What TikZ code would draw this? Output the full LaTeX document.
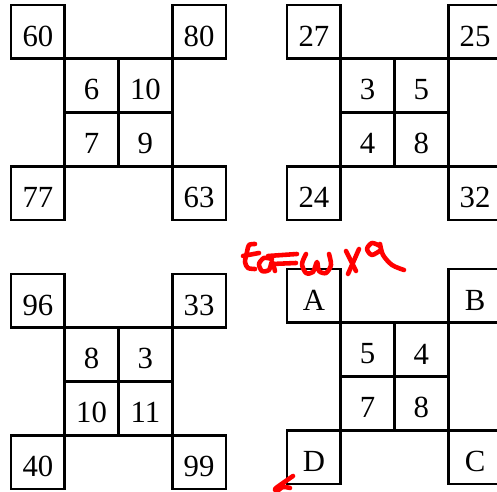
\documentclass[tikz,border=0pt]{standalone}
\usepackage{fontspec}
\setmainfont{Liberation Serif}
\usetikzlibrary{positioning}

\begin{document}
\begin{tikzpicture}[
  x=0.02cm, y=-0.02cm,
  box/.style={draw, line width=1.5pt, rectangle, minimum size=1.075cm, inner sep=0pt,
              text height=0.58cm, font=\fontsize{17.5}{20}\selectfont},
  scribble/.style={draw=red, line width=2.6pt, line cap=round, line join=round},
]
\useasboundingbox (0,0) rectangle (497,492);

% ---------------- Panel 1 (top left) ----------------
\node[box] (p1nw) at (37.9,31.9)   {60};
\node[box] (p1ne) at (199.1,31.9)  {80};
\node[box] (p1sw) at (37.9,193.1)  {77};
\node[box] (p1se) at (199.1,193.1) {63};
\node[box] (p1c1) at (91.6,85.6)   {6};
\node[box] (p1c2) at (145.4,85.6)  {10};
\node[box] (p1c3) at (91.6,139.4)  {7};
\node[box] (p1c4) at (145.4,139.4) {9};

% ---------------- Panel 2 (top right) ----------------
\node[box] (p2nw) at (313.9,31.9)  {27};
\node[box] (p2ne) at (475.1,31.9)  {25};
\node[box] (p2sw) at (313.9,193.1) {24};
\node[box] (p2se) at (475.1,193.1) {32};
\node[box] (p2c1) at (367.6,85.6)  {3};
\node[box] (p2c2) at (421.4,85.6)  {5};
\node[box] (p2c3) at (367.6,139.4) {4};
\node[box] (p2c4) at (421.4,139.4) {8};

% ---------------- Panel 3 (bottom left) ----------------
\node[box] (p3nw) at (37.9,300.9)  {96};
\node[box] (p3ne) at (199.1,300.9) {33};
\node[box] (p3sw) at (37.9,462.1)  {40};
\node[box] (p3se) at (199.1,462.1) {99};
\node[box] (p3c1) at (91.6,354.6)  {8};
\node[box] (p3c2) at (145.4,354.6) {3};
\node[box] (p3c3) at (91.6,408.4)  {10};
\node[box] (p3c4) at (145.4,408.4) {11};

% ---------------- Panel 4 (bottom right) ----------------
\node[box] (p4nw) at (313.9,295.9) {A};
\node[box] (p4ne) at (475.1,295.9) {B};
\node[box] (p4sw) at (313.9,457.1) {D};
\node[box] (p4se) at (475.1,457.1) {C};
\node[box] (p4c1) at (367.6,349.6) {5};
\node[box] (p4c2) at (421.4,349.6) {4};
\node[box] (p4c3) at (367.6,403.4) {7};
\node[box] (p4c4) at (421.4,403.4) {8};

% ---------------- Red handwriting ----------------
\draw[scribble] plot[smooth] coordinates {(255,244) (249,245) (247,252) (245,262) (248,268) (255,269)};
\draw[scribble] (243,256) -- (259,253);
\draw[scribble] plot[smooth] coordinates {(272,259) (264,258) (259,264) (262,271) (269,270) (272,262) (275,271)};
\draw[scribble] (268,256) -- (297,254);
\draw[scribble] (272,264) -- (296,263);
\draw[scribble] plot[smooth] coordinates {(306,254) (302,264) (306,273) (313,272) (317,262) (319,271) (326,273) (331,265) (329,254)};
\draw[scribble] (346,251) -- (356,271);
\draw[scribble] (359,249) -- (348,274);
\draw[scribble] plot[smooth] coordinates {(380,246) (372,243) (367,249) (372,255) (381,250)};
\draw[scribble] plot[smooth] coordinates {(380,244) (383,255) (392,265) (404,270)};
\draw[scribble] plot[smooth] coordinates {(293,476) (283,483) (275,489) (277,491) (283,487) (290,488)};
\end{tikzpicture}
\end{document}
